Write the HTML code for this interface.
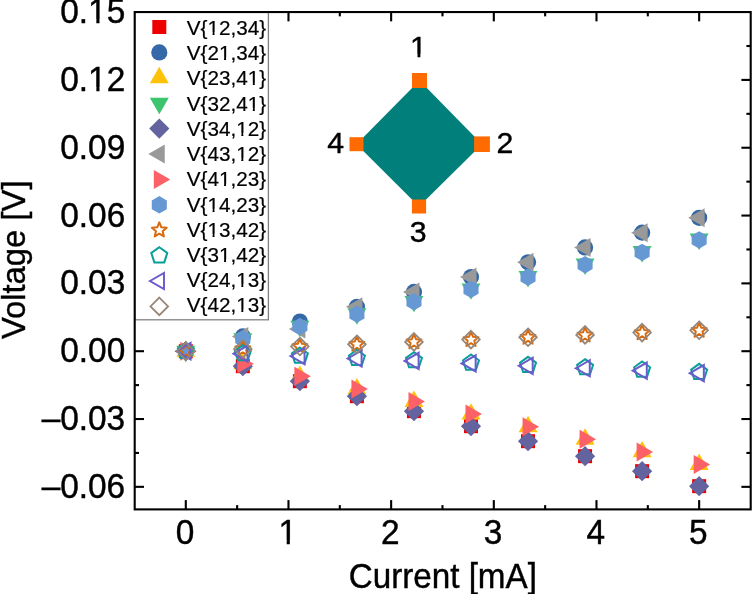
<!DOCTYPE html><html><head><meta charset="utf-8"><style>html,body{margin:0;padding:0;background:#fff;}svg{display:block;will-change:transform;}text{font-family:"Liberation Sans",sans-serif;stroke:#000;stroke-width:0.4px;}</style></head><body>
<svg width="752" height="594" viewBox="0 0 752 594">
<rect width="752" height="594" fill="#fff"/>
<g><rect x="178.8" y="344.2" width="14" height="14" fill="#ee0000"/><rect x="235.84" y="359.2" width="14" height="14" fill="#ee0000"/><rect x="292.88" y="374.19" width="14" height="14" fill="#ee0000"/><rect x="349.92" y="389.19" width="14" height="14" fill="#ee0000"/><rect x="406.96" y="404.18" width="14" height="14" fill="#ee0000"/><rect x="463.99" y="419.18" width="14" height="14" fill="#ee0000"/><rect x="521.03" y="434.18" width="14" height="14" fill="#ee0000"/><rect x="578.07" y="449.17" width="14" height="14" fill="#ee0000"/><rect x="635.11" y="464.17" width="14" height="14" fill="#ee0000"/><rect x="692.15" y="479.16" width="14" height="14" fill="#ee0000"/><circle cx="185.8" cy="351.2" r="8.1" fill="#3568a6"/><circle cx="242.84" cy="336.38" r="8.1" fill="#3568a6"/><circle cx="299.88" cy="321.56" r="8.1" fill="#3568a6"/><circle cx="356.92" cy="306.74" r="8.1" fill="#3568a6"/><circle cx="413.96" cy="291.92" r="8.1" fill="#3568a6"/><circle cx="470.99" cy="277.1" r="8.1" fill="#3568a6"/><circle cx="528.03" cy="262.28" r="8.1" fill="#3568a6"/><circle cx="585.07" cy="247.46" r="8.1" fill="#3568a6"/><circle cx="642.11" cy="232.64" r="8.1" fill="#3568a6"/><circle cx="699.15" cy="217.82" r="8.1" fill="#3568a6"/><polygon points="185.8,340.23 195.3,356.68 176.3,356.68" fill="#ffc20a"/><polygon points="242.84,352.81 252.34,369.27 233.34,369.27" fill="#ffc20a"/><polygon points="299.88,365.4 309.38,381.85 290.38,381.85" fill="#ffc20a"/><polygon points="356.92,377.98 366.42,394.44 347.42,394.44" fill="#ffc20a"/><polygon points="413.96,390.57 423.46,407.02 404.46,407.02" fill="#ffc20a"/><polygon points="470.99,403.15 480.49,419.61 461.49,419.61" fill="#ffc20a"/><polygon points="528.03,415.74 537.53,432.19 518.53,432.19" fill="#ffc20a"/><polygon points="585.07,428.32 594.57,444.78 575.57,444.78" fill="#ffc20a"/><polygon points="642.11,440.91 651.61,457.36 632.61,457.36" fill="#ffc20a"/><polygon points="699.15,453.49 708.65,469.95 689.65,469.95" fill="#ffc20a"/><polygon points="185.8,362.17 176.3,345.72 195.3,345.72" fill="#3cc46e"/><polygon points="242.84,349.71 233.34,333.26 252.34,333.26" fill="#3cc46e"/><polygon points="299.88,337.25 290.38,320.8 309.38,320.8" fill="#3cc46e"/><polygon points="356.92,324.79 347.42,308.34 366.42,308.34" fill="#3cc46e"/><polygon points="413.96,312.33 404.46,295.88 423.46,295.88" fill="#3cc46e"/><polygon points="470.99,299.87 461.49,283.42 480.49,283.42" fill="#3cc46e"/><polygon points="528.03,287.42 518.53,270.96 537.53,270.96" fill="#3cc46e"/><polygon points="585.07,274.96 575.57,258.5 594.57,258.5" fill="#3cc46e"/><polygon points="642.11,262.5 632.61,246.04 651.61,246.04" fill="#3cc46e"/><polygon points="699.15,250.04 689.65,233.58 708.65,233.58" fill="#3cc46e"/><polygon points="185.8,341.1 195.9,351.2 185.8,361.3 175.7,351.2" fill="#63639f"/><polygon points="242.84,356.1 252.94,366.2 242.84,376.3 232.74,366.2" fill="#63639f"/><polygon points="299.88,371.09 309.98,381.19 299.88,391.29 289.78,381.19" fill="#63639f"/><polygon points="356.92,386.09 367.02,396.19 356.92,406.29 346.82,396.19" fill="#63639f"/><polygon points="413.96,401.08 424.06,411.18 413.96,421.28 403.86,411.18" fill="#63639f"/><polygon points="470.99,416.08 481.09,426.18 470.99,436.28 460.89,426.18" fill="#63639f"/><polygon points="528.03,431.08 538.13,441.18 528.03,451.28 517.93,441.18" fill="#63639f"/><polygon points="585.07,446.07 595.17,456.17 585.07,466.27 574.97,456.17" fill="#63639f"/><polygon points="642.11,461.07 652.21,471.17 642.11,481.27 632.01,471.17" fill="#63639f"/><polygon points="699.15,476.06 709.25,486.16 699.15,496.26 689.05,486.16" fill="#63639f"/><polygon points="174.83,351.2 191.28,341.7 191.28,360.7" fill="#999999"/><polygon points="231.87,336.38 248.32,326.88 248.32,345.88" fill="#999999"/><polygon points="288.91,329.05 305.36,319.55 305.36,338.55" fill="#999999"/><polygon points="345.95,306.74 362.4,297.24 362.4,316.24" fill="#999999"/><polygon points="402.99,291.92 419.44,282.42 419.44,301.42" fill="#999999"/><polygon points="460.02,277.1 476.48,267.6 476.48,286.6" fill="#999999"/><polygon points="517.06,262.28 533.52,252.78 533.52,271.78" fill="#999999"/><polygon points="574.1,247.46 590.56,237.96 590.56,256.96" fill="#999999"/><polygon points="631.14,232.64 647.6,223.14 647.6,242.14" fill="#999999"/><polygon points="688.18,217.82 704.63,208.32 704.63,227.32" fill="#999999"/><polygon points="196.77,351.2 180.32,360.7 180.32,341.7" fill="#fb6166"/><polygon points="253.81,363.78 237.35,373.28 237.35,354.28" fill="#fb6166"/><polygon points="310.85,376.37 294.39,385.87 294.39,366.87" fill="#fb6166"/><polygon points="367.89,388.95 351.43,398.45 351.43,379.45" fill="#fb6166"/><polygon points="424.93,401.54 408.47,411.04 408.47,392.04" fill="#fb6166"/><polygon points="481.96,414.12 465.51,423.62 465.51,404.62" fill="#fb6166"/><polygon points="539,426.71 522.55,436.21 522.55,417.21" fill="#fb6166"/><polygon points="596.04,439.29 579.59,448.79 579.59,429.79" fill="#fb6166"/><polygon points="653.08,451.88 636.63,461.38 636.63,442.38" fill="#fb6166"/><polygon points="710.12,464.46 693.67,473.96 693.67,454.96" fill="#fb6166"/><polygon points="185.8,342.5 193.33,346.85 193.33,355.55 185.8,359.9 178.27,355.55 178.27,346.85" fill="#6698d3"/><polygon points="242.84,330.14 250.37,334.49 250.37,343.19 242.84,347.54 235.3,343.19 235.3,334.49" fill="#6698d3"/><polygon points="299.88,317.78 307.41,322.13 307.41,330.83 299.88,335.18 292.34,330.83 292.34,322.13" fill="#6698d3"/><polygon points="356.92,305.42 364.45,309.77 364.45,318.47 356.92,322.82 349.38,318.47 349.38,309.77" fill="#6698d3"/><polygon points="413.96,293.07 421.49,297.42 421.49,306.12 413.96,310.47 406.42,306.12 406.42,297.42" fill="#6698d3"/><polygon points="470.99,280.71 478.53,285.06 478.53,293.76 470.99,298.11 463.46,293.76 463.46,285.06" fill="#6698d3"/><polygon points="528.03,268.35 535.57,272.7 535.57,281.4 528.03,285.75 520.5,281.4 520.5,272.7" fill="#6698d3"/><polygon points="585.07,255.99 592.61,260.34 592.61,269.04 585.07,273.39 577.54,269.04 577.54,260.34" fill="#6698d3"/><polygon points="642.11,243.63 649.65,247.98 649.65,256.68 642.11,261.03 634.58,256.68 634.58,247.98" fill="#6698d3"/><polygon points="699.15,231.27 706.68,235.62 706.68,244.32 699.15,248.67 691.62,244.32 691.62,235.62" fill="#6698d3"/><polygon points="185.8,343.4 187.86,348.36 193.22,348.79 189.14,352.28 190.38,357.51 185.8,354.71 181.22,357.51 182.46,352.28 178.38,348.79 183.74,348.36" fill="none" stroke="#d9690a" stroke-width="2" stroke-linejoin="round"/><polygon points="242.84,341.1 244.9,346.06 250.26,346.49 246.18,349.99 247.42,355.21 242.84,352.41 238.25,355.21 239.5,349.99 235.42,346.49 240.78,346.06" fill="none" stroke="#d9690a" stroke-width="2" stroke-linejoin="round"/><polygon points="299.88,338.8 301.94,343.76 307.3,344.19 303.22,347.69 304.46,352.91 299.88,350.11 295.29,352.91 296.54,347.69 292.46,344.19 297.81,343.76" fill="none" stroke="#d9690a" stroke-width="2" stroke-linejoin="round"/><polygon points="356.92,336.5 358.98,341.47 364.33,341.89 360.25,345.39 361.5,350.62 356.92,347.81 352.33,350.62 353.58,345.39 349.5,341.89 354.85,341.47" fill="none" stroke="#d9690a" stroke-width="2" stroke-linejoin="round"/><polygon points="413.96,334.21 416.02,339.17 421.37,339.6 417.29,343.09 418.54,348.32 413.96,345.52 409.37,348.32 410.62,343.09 406.54,339.6 411.89,339.17" fill="none" stroke="#d9690a" stroke-width="2" stroke-linejoin="round"/><polygon points="470.99,331.91 473.06,336.87 478.41,337.3 474.33,340.79 475.58,346.02 470.99,343.22 466.41,346.02 467.66,340.79 463.58,337.3 468.93,336.87" fill="none" stroke="#d9690a" stroke-width="2" stroke-linejoin="round"/><polygon points="528.03,329.61 530.1,334.57 535.45,335 531.37,338.49 532.62,343.72 528.03,340.92 523.45,343.72 524.7,338.49 520.62,335 525.97,334.57" fill="none" stroke="#d9690a" stroke-width="2" stroke-linejoin="round"/><polygon points="585.07,327.31 587.14,332.27 592.49,332.7 588.41,336.2 589.66,341.42 585.07,338.62 580.49,341.42 581.73,336.2 577.65,332.7 583.01,332.27" fill="none" stroke="#d9690a" stroke-width="2" stroke-linejoin="round"/><polygon points="642.11,325.01 644.17,329.97 649.53,330.4 645.45,333.9 646.7,339.12 642.11,336.32 637.53,339.12 638.77,333.9 634.69,330.4 640.05,329.97" fill="none" stroke="#d9690a" stroke-width="2" stroke-linejoin="round"/><polygon points="699.15,322.71 701.21,327.67 706.57,328.1 702.49,331.6 703.73,336.82 699.15,334.02 694.57,336.82 695.81,331.6 691.73,328.1 697.09,327.67" fill="none" stroke="#d9690a" stroke-width="2" stroke-linejoin="round"/><polygon points="185.8,342.8 193.79,348.6 190.74,358 180.86,358 177.81,348.6" fill="none" stroke="#0a9e9a" stroke-width="2"/><polygon points="242.84,345.14 250.83,350.94 247.78,360.33 237.9,360.33 234.85,350.94" fill="none" stroke="#0a9e9a" stroke-width="2"/><polygon points="299.88,347.47 307.87,353.28 304.82,362.67 294.94,362.67 291.89,353.28" fill="none" stroke="#0a9e9a" stroke-width="2"/><polygon points="356.92,349.81 364.91,355.61 361.85,365 351.98,365 348.93,355.61" fill="none" stroke="#0a9e9a" stroke-width="2"/><polygon points="413.96,352.14 421.94,357.95 418.89,367.34 409.02,367.34 405.97,357.95" fill="none" stroke="#0a9e9a" stroke-width="2"/><polygon points="470.99,354.48 478.98,360.28 475.93,369.68 466.06,369.68 463.01,360.28" fill="none" stroke="#0a9e9a" stroke-width="2"/><polygon points="528.03,356.82 536.02,362.62 532.97,372.01 523.1,372.01 520.04,362.62" fill="none" stroke="#0a9e9a" stroke-width="2"/><polygon points="585.07,359.15 593.06,364.96 590.01,374.35 580.13,374.35 577.08,364.96" fill="none" stroke="#0a9e9a" stroke-width="2"/><polygon points="642.11,361.49 650.1,367.29 647.05,376.68 637.17,376.68 634.12,367.29" fill="none" stroke="#0a9e9a" stroke-width="2"/><polygon points="699.15,363.82 707.14,369.63 704.09,379.02 694.21,379.02 691.16,369.63" fill="none" stroke="#0a9e9a" stroke-width="2"/><polygon points="176.45,351.2 190.48,343.1 190.48,359.3" fill="none" stroke="#6a5ccc" stroke-width="2" stroke-linejoin="miter"/><polygon points="233.49,353.64 247.52,345.54 247.52,361.74" fill="none" stroke="#6a5ccc" stroke-width="2" stroke-linejoin="miter"/><polygon points="290.52,356.07 304.55,347.97 304.55,364.17" fill="none" stroke="#6a5ccc" stroke-width="2" stroke-linejoin="miter"/><polygon points="347.56,358.51 361.59,350.41 361.59,366.61" fill="none" stroke="#6a5ccc" stroke-width="2" stroke-linejoin="miter"/><polygon points="404.6,360.95 418.63,352.85 418.63,369.05" fill="none" stroke="#6a5ccc" stroke-width="2" stroke-linejoin="miter"/><polygon points="461.64,363.38 475.67,355.28 475.67,371.48" fill="none" stroke="#6a5ccc" stroke-width="2" stroke-linejoin="miter"/><polygon points="518.68,365.82 532.71,357.72 532.71,373.92" fill="none" stroke="#6a5ccc" stroke-width="2" stroke-linejoin="miter"/><polygon points="575.72,368.26 589.75,360.16 589.75,376.36" fill="none" stroke="#6a5ccc" stroke-width="2" stroke-linejoin="miter"/><polygon points="632.76,370.69 646.79,362.59 646.79,378.79" fill="none" stroke="#6a5ccc" stroke-width="2" stroke-linejoin="miter"/><polygon points="689.8,373.13 703.83,365.03 703.83,381.23" fill="none" stroke="#6a5ccc" stroke-width="2" stroke-linejoin="miter"/><polygon points="185.8,342.4 194.6,351.2 185.8,360 177,351.2" fill="none" stroke="#988678" stroke-width="1.8"/><polygon points="242.84,340.08 251.64,348.88 242.84,357.68 234.04,348.88" fill="none" stroke="#988678" stroke-width="1.8"/><polygon points="299.88,337.75 308.68,346.55 299.88,355.35 291.08,346.55" fill="none" stroke="#988678" stroke-width="1.8"/><polygon points="356.92,335.43 365.72,344.23 356.92,353.03 348.12,344.23" fill="none" stroke="#988678" stroke-width="1.8"/><polygon points="413.96,333.11 422.76,341.91 413.96,350.71 405.16,341.91" fill="none" stroke="#988678" stroke-width="1.8"/><polygon points="470.99,330.78 479.79,339.58 470.99,348.38 462.19,339.58" fill="none" stroke="#988678" stroke-width="1.8"/><polygon points="528.03,328.46 536.83,337.26 528.03,346.06 519.23,337.26" fill="none" stroke="#988678" stroke-width="1.8"/><polygon points="585.07,326.14 593.87,334.94 585.07,343.74 576.27,334.94" fill="none" stroke="#988678" stroke-width="1.8"/><polygon points="642.11,323.81 650.91,332.61 642.11,341.41 633.31,332.61" fill="none" stroke="#988678" stroke-width="1.8"/><polygon points="699.15,321.49 707.95,330.29 699.15,339.09 690.35,330.29" fill="none" stroke="#988678" stroke-width="1.8"/></g>
<g><polygon points="419.5,80.5 482,144.2 419,206.5 356.5,144.2" fill="#017f7b"/><rect x="412" y="73" width="15" height="15" fill="#ff6b00"/><rect x="474.1" y="136.4" width="15.8" height="15.6" fill="#ff6b00"/><rect x="411.9" y="199.5" width="14.2" height="14" fill="#ff6b00"/><rect x="349.5" y="137.2" width="14" height="14" fill="#ff6b00"/><g transform="translate(418.4,57.2) scale(1.05,1)"><text font-size="28.8" text-anchor="middle">1</text><rect x="-7.59" y="-3.25" width="6.72" height="4.45" fill="#fff"/><rect x="1.88" y="-3.25" width="5.93" height="4.45" fill="#fff"/></g><g transform="translate(505,153.1) scale(1.05,1)"><text font-size="28.8" text-anchor="middle">2</text></g><g transform="translate(418.2,241.8) scale(1.05,1)"><text font-size="28.8" text-anchor="middle">3</text></g><g transform="translate(335.6,153.2) scale(1.05,1)"><text font-size="28.8" text-anchor="middle">4</text></g></g>
<g><line x1="185.8" y1="509.4" x2="185.8" y2="500.1" stroke="#000" stroke-width="2.1"/><line x1="185.8" y1="12.05" x2="185.8" y2="21.35" stroke="#000" stroke-width="2.1"/><line x1="237.14" y1="509.4" x2="237.14" y2="505.1" stroke="#000" stroke-width="2.1"/><line x1="237.14" y1="12.05" x2="237.14" y2="16.35" stroke="#000" stroke-width="2.1"/><line x1="288.47" y1="509.4" x2="288.47" y2="500.1" stroke="#000" stroke-width="2.1"/><line x1="288.47" y1="12.05" x2="288.47" y2="21.35" stroke="#000" stroke-width="2.1"/><line x1="339.81" y1="509.4" x2="339.81" y2="505.1" stroke="#000" stroke-width="2.1"/><line x1="339.81" y1="12.05" x2="339.81" y2="16.35" stroke="#000" stroke-width="2.1"/><line x1="391.14" y1="509.4" x2="391.14" y2="500.1" stroke="#000" stroke-width="2.1"/><line x1="391.14" y1="12.05" x2="391.14" y2="21.35" stroke="#000" stroke-width="2.1"/><line x1="442.48" y1="509.4" x2="442.48" y2="505.1" stroke="#000" stroke-width="2.1"/><line x1="442.48" y1="12.05" x2="442.48" y2="16.35" stroke="#000" stroke-width="2.1"/><line x1="493.81" y1="509.4" x2="493.81" y2="500.1" stroke="#000" stroke-width="2.1"/><line x1="493.81" y1="12.05" x2="493.81" y2="21.35" stroke="#000" stroke-width="2.1"/><line x1="545.14" y1="509.4" x2="545.14" y2="505.1" stroke="#000" stroke-width="2.1"/><line x1="545.14" y1="12.05" x2="545.14" y2="16.35" stroke="#000" stroke-width="2.1"/><line x1="596.48" y1="509.4" x2="596.48" y2="500.1" stroke="#000" stroke-width="2.1"/><line x1="596.48" y1="12.05" x2="596.48" y2="21.35" stroke="#000" stroke-width="2.1"/><line x1="647.82" y1="509.4" x2="647.82" y2="505.1" stroke="#000" stroke-width="2.1"/><line x1="647.82" y1="12.05" x2="647.82" y2="16.35" stroke="#000" stroke-width="2.1"/><line x1="699.15" y1="509.4" x2="699.15" y2="500.1" stroke="#000" stroke-width="2.1"/><line x1="699.15" y1="12.05" x2="699.15" y2="21.35" stroke="#000" stroke-width="2.1"/><line x1="134.7" y1="486.84" x2="144" y2="486.84" stroke="#000" stroke-width="2.1"/><line x1="750.7" y1="486.84" x2="741.4" y2="486.84" stroke="#000" stroke-width="2.1"/><line x1="134.7" y1="452.93" x2="139" y2="452.93" stroke="#000" stroke-width="2.1"/><line x1="750.7" y1="452.93" x2="746.4" y2="452.93" stroke="#000" stroke-width="2.1"/><line x1="134.7" y1="419.02" x2="144" y2="419.02" stroke="#000" stroke-width="2.1"/><line x1="750.7" y1="419.02" x2="741.4" y2="419.02" stroke="#000" stroke-width="2.1"/><line x1="134.7" y1="385.11" x2="139" y2="385.11" stroke="#000" stroke-width="2.1"/><line x1="750.7" y1="385.11" x2="746.4" y2="385.11" stroke="#000" stroke-width="2.1"/><line x1="134.7" y1="351.2" x2="144" y2="351.2" stroke="#000" stroke-width="2.1"/><line x1="750.7" y1="351.2" x2="741.4" y2="351.2" stroke="#000" stroke-width="2.1"/><line x1="134.7" y1="317.29" x2="139" y2="317.29" stroke="#000" stroke-width="2.1"/><line x1="750.7" y1="317.29" x2="746.4" y2="317.29" stroke="#000" stroke-width="2.1"/><line x1="134.7" y1="283.38" x2="144" y2="283.38" stroke="#000" stroke-width="2.1"/><line x1="750.7" y1="283.38" x2="741.4" y2="283.38" stroke="#000" stroke-width="2.1"/><line x1="134.7" y1="249.47" x2="139" y2="249.47" stroke="#000" stroke-width="2.1"/><line x1="750.7" y1="249.47" x2="746.4" y2="249.47" stroke="#000" stroke-width="2.1"/><line x1="134.7" y1="215.56" x2="144" y2="215.56" stroke="#000" stroke-width="2.1"/><line x1="750.7" y1="215.56" x2="741.4" y2="215.56" stroke="#000" stroke-width="2.1"/><line x1="134.7" y1="181.65" x2="139" y2="181.65" stroke="#000" stroke-width="2.1"/><line x1="750.7" y1="181.65" x2="746.4" y2="181.65" stroke="#000" stroke-width="2.1"/><line x1="134.7" y1="147.74" x2="144" y2="147.74" stroke="#000" stroke-width="2.1"/><line x1="750.7" y1="147.74" x2="741.4" y2="147.74" stroke="#000" stroke-width="2.1"/><line x1="134.7" y1="113.83" x2="139" y2="113.83" stroke="#000" stroke-width="2.1"/><line x1="750.7" y1="113.83" x2="746.4" y2="113.83" stroke="#000" stroke-width="2.1"/><line x1="134.7" y1="79.92" x2="144" y2="79.92" stroke="#000" stroke-width="2.1"/><line x1="750.7" y1="79.92" x2="741.4" y2="79.92" stroke="#000" stroke-width="2.1"/><line x1="134.7" y1="46.01" x2="139" y2="46.01" stroke="#000" stroke-width="2.1"/><line x1="750.7" y1="46.01" x2="746.4" y2="46.01" stroke="#000" stroke-width="2.1"/></g>
<g><rect x="134.7" y="12.05" width="133.7" height="307.75" fill="#fff" stroke="#808080" stroke-width="1.3"/><rect x="152.3" y="20" width="14" height="14" fill="#ee0000"/><g transform="translate(186.7,34.9) scale(1,1.02)"><text font-size="20.7" style="stroke-width:0.2px">V{12,34}</text><rect x="21.02" y="-2.62" width="4.83" height="3.82" fill="#fff"/><rect x="27.83" y="-2.62" width="4.27" height="3.82" fill="#fff"/></g><circle cx="159.3" cy="52.4" r="8.1" fill="#3568a6"/><g transform="translate(186.7,60.13) scale(1,1.02)"><text font-size="20.7" style="stroke-width:0.2px">V{21,34}</text><rect x="32.54" y="-2.62" width="4.83" height="3.82" fill="#fff"/><rect x="39.34" y="-2.62" width="4.27" height="3.82" fill="#fff"/></g><polygon points="159.3,66.83 168.8,83.28 149.8,83.28" fill="#ffc20a"/><g transform="translate(186.7,85.36) scale(1,1.02)"><text font-size="20.7" style="stroke-width:0.2px">V{23,41}</text><rect x="61.31" y="-2.62" width="4.83" height="3.82" fill="#fff"/><rect x="68.11" y="-2.62" width="4.27" height="3.82" fill="#fff"/></g><polygon points="159.3,114.17 149.8,97.72 168.8,97.72" fill="#3cc46e"/><g transform="translate(186.7,110.59) scale(1,1.02)"><text font-size="20.7" style="stroke-width:0.2px">V{32,41}</text><rect x="61.31" y="-2.62" width="4.83" height="3.82" fill="#fff"/><rect x="68.11" y="-2.62" width="4.27" height="3.82" fill="#fff"/></g><polygon points="159.3,118.5 169.4,128.6 159.3,138.7 149.2,128.6" fill="#63639f"/><g transform="translate(186.7,135.82) scale(1,1.02)"><text font-size="20.7" style="stroke-width:0.2px">V{34,12}</text><rect x="49.8" y="-2.62" width="4.83" height="3.82" fill="#fff"/><rect x="56.6" y="-2.62" width="4.27" height="3.82" fill="#fff"/></g><polygon points="148.33,154 164.78,144.5 164.78,163.5" fill="#999999"/><g transform="translate(186.7,161.05) scale(1,1.02)"><text font-size="20.7" style="stroke-width:0.2px">V{43,12}</text><rect x="49.8" y="-2.62" width="4.83" height="3.82" fill="#fff"/><rect x="56.6" y="-2.62" width="4.27" height="3.82" fill="#fff"/></g><polygon points="170.27,179.4 153.82,188.9 153.82,169.9" fill="#fb6166"/><g transform="translate(186.7,186.28) scale(1,1.02)"><text font-size="20.7" style="stroke-width:0.2px">V{41,23}</text><rect x="32.54" y="-2.62" width="4.83" height="3.82" fill="#fff"/><rect x="39.34" y="-2.62" width="4.27" height="3.82" fill="#fff"/></g><polygon points="159.3,196.1 166.83,200.45 166.83,209.15 159.3,213.5 151.77,209.15 151.77,200.45" fill="#6698d3"/><g transform="translate(186.7,211.51) scale(1,1.02)"><text font-size="20.7" style="stroke-width:0.2px">V{14,23}</text><rect x="21.02" y="-2.62" width="4.83" height="3.82" fill="#fff"/><rect x="27.83" y="-2.62" width="4.27" height="3.82" fill="#fff"/></g><polygon points="159.3,222.4 161.36,227.36 166.72,227.79 162.64,231.28 163.88,236.51 159.3,233.71 154.72,236.51 155.96,231.28 151.88,227.79 157.24,227.36" fill="none" stroke="#d9690a" stroke-width="2" stroke-linejoin="round"/><g transform="translate(186.7,236.74) scale(1,1.02)"><text font-size="20.7" style="stroke-width:0.2px">V{13,42}</text><rect x="21.02" y="-2.62" width="4.83" height="3.82" fill="#fff"/><rect x="27.83" y="-2.62" width="4.27" height="3.82" fill="#fff"/></g><polygon points="159.3,247.2 167.29,253 164.24,262.4 154.36,262.4 151.31,253" fill="none" stroke="#0a9e9a" stroke-width="2"/><g transform="translate(186.7,261.97) scale(1,1.02)"><text font-size="20.7" style="stroke-width:0.2px">V{31,42}</text><rect x="32.54" y="-2.62" width="4.83" height="3.82" fill="#fff"/><rect x="39.34" y="-2.62" width="4.27" height="3.82" fill="#fff"/></g><polygon points="149.95,281 163.98,272.9 163.98,289.1" fill="none" stroke="#6a5ccc" stroke-width="2" stroke-linejoin="miter"/><g transform="translate(186.7,287.2) scale(1,1.02)"><text font-size="20.7" style="stroke-width:0.2px">V{24,13}</text><rect x="49.8" y="-2.62" width="4.83" height="3.82" fill="#fff"/><rect x="56.6" y="-2.62" width="4.27" height="3.82" fill="#fff"/></g><polygon points="159.3,297.6 168.1,306.4 159.3,315.2 150.5,306.4" fill="none" stroke="#988678" stroke-width="1.8"/><g transform="translate(186.7,312.43) scale(1,1.02)"><text font-size="20.7" style="stroke-width:0.2px">V{42,13}</text><rect x="49.8" y="-2.62" width="4.83" height="3.82" fill="#fff"/><rect x="56.6" y="-2.62" width="4.27" height="3.82" fill="#fff"/></g></g>
<rect x="134.7" y="12.05" width="616" height="497.35" fill="none" stroke="#000" stroke-width="2.1"/>
<g><g transform="translate(125.2,497.89) scale(1,1.04)"><text font-size="33.4" text-anchor="end">–0.06</text></g><g transform="translate(125.2,430.07) scale(1,1.04)"><text font-size="33.4" text-anchor="end">–0.03</text></g><g transform="translate(125.2,362.25) scale(1,1.04)"><text font-size="33.4" text-anchor="end">0.00</text></g><g transform="translate(125.2,294.43) scale(1,1.04)"><text font-size="33.4" text-anchor="end">0.03</text></g><g transform="translate(125.2,226.61) scale(1,1.04)"><text font-size="33.4" text-anchor="end">0.06</text></g><g transform="translate(125.2,158.79) scale(1,1.04)"><text font-size="33.4" text-anchor="end">0.09</text></g><g transform="translate(125.2,90.97) scale(1,1.04)"><text font-size="33.4" text-anchor="end">0.12</text><rect x="-36.66" y="-3.61" width="7.8" height="4.81" fill="#fff"/><rect x="-25.69" y="-3.61" width="6.88" height="4.81" fill="#fff"/></g><g transform="translate(125.2,23.15) scale(1,1.04)"><text font-size="33.4" text-anchor="end">0.15</text><rect x="-36.66" y="-3.61" width="7.8" height="4.81" fill="#fff"/><rect x="-25.69" y="-3.61" width="6.88" height="4.81" fill="#fff"/></g><g transform="translate(185,543.9) scale(1,1.04)"><text font-size="33.4" text-anchor="middle">0</text></g><g transform="translate(287.67,543.9) scale(1,1.04)"><text font-size="33.4" text-anchor="middle">1</text><rect x="-8.8" y="-3.61" width="7.8" height="4.81" fill="#fff"/><rect x="2.18" y="-3.61" width="6.88" height="4.81" fill="#fff"/></g><g transform="translate(390.34,543.9) scale(1,1.04)"><text font-size="33.4" text-anchor="middle">2</text></g><g transform="translate(493.01,543.9) scale(1,1.04)"><text font-size="33.4" text-anchor="middle">3</text></g><g transform="translate(595.68,543.9) scale(1,1.04)"><text font-size="33.4" text-anchor="middle">4</text></g><g transform="translate(698.35,543.9) scale(1,1.04)"><text font-size="33.4" text-anchor="middle">5</text></g></g>
<g transform="translate(442.8,587.7) scale(1,1.04)"><text font-size="33.2" text-anchor="middle">Current [mA]</text></g>
<text transform="translate(25.2,259.8) rotate(-90) scale(1,1.04)" font-size="32.8" text-anchor="middle">Voltage [V]</text>
</svg></body></html>
